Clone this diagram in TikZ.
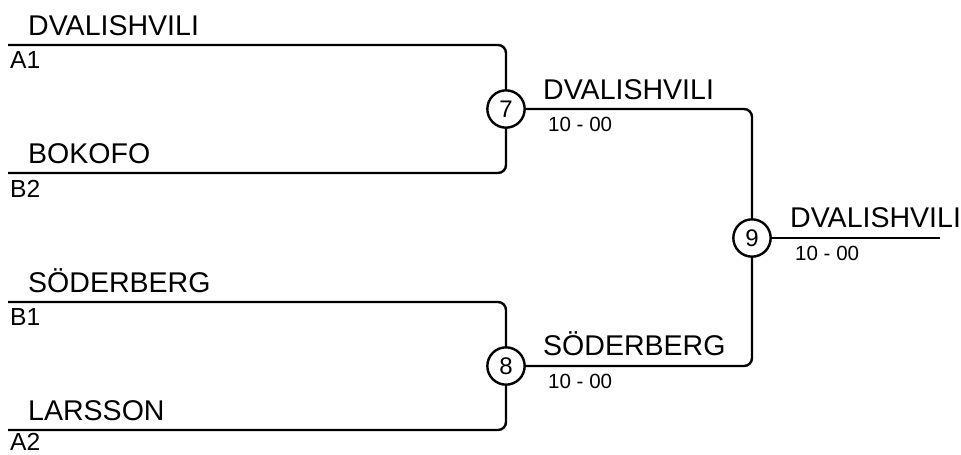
\documentclass[tikz,border=0pt]{standalone}
\usepackage{fontspec}
\setmainfont{Liberation Sans}
\usetikzlibrary{positioning}

\begin{document}
\begin{tikzpicture}[
        x=0.75pt, y=-0.75pt,
        line width=1.8pt,
        match/.style={circle, draw, fill=white, minimum size=28pt, inner sep=0pt, font=\fontsize{18}{20}\selectfont},
        fighter/.style={anchor=base west, inner sep=0pt, font=\fontsize{21.4}{24}\selectfont},
        seed/.style={anchor=base west, inner sep=0pt, font=\fontsize{18.5}{20}\selectfont},
        score/.style={anchor=base west, inner sep=0pt, font=\fontsize{15.4}{18}\selectfont},
        bracket/.style={rounded corners=6pt}
    ]
        \useasboundingbox (0,0) rectangle (961,454);

        % first round
        \coordinate (a1) at (8,45);
        \coordinate (b2) at (8,173);
        \coordinate (b1) at (8,302);
        \coordinate (a2) at (8,430);
        \node[match] (m7) at (506,109) {7};
        \node[match] (m8) at (506,366) {8};
        \node[match] (m9) at (752,238) {9};
        \coordinate (final) at (940,238);

        \draw[bracket] (a1) -| (m7);
        \draw[bracket] (b2) -| (m7);
        \draw[bracket] (b1) -| (m8);
        \draw[bracket] (a2) -| (m8);
        \draw[bracket] (m7) -| (m9);
        \draw[bracket] (m8) -| (m9);
        \draw (m9) -- (final);

        \node[fighter] (dva1) at (27,35) {DVALISHVILI};
        \node[seed] (sa1) at (9,68) {A1};
        \node[fighter] (bok) at (27,163) {BOKOFO};
        \node[seed] (sb2) at (9,197) {B2};
        \node[fighter] (sod1) at (27,292) {SÖDERBERG};
        \node[seed] (sb1) at (9,325) {B1};
        \node[fighter] (lar) at (27,420) {LARSSON};
        \node[seed] (sa2) at (9,450.5) {A2};

        % semi finals and final
        \node[fighter] (dva2) at (542,99) {DVALISHVILI};
        \node[score] (r7) at (547,131) {10 - 00};
        \node[fighter] (sod2) at (542,355) {SÖDERBERG};
        \node[score] (r8) at (547,388) {10 - 00};
        \node[fighter] (dva3) at (789,227) {DVALISHVILI};
        \node[score] (r9) at (794,260) {10 - 00};
    \end{tikzpicture}
\end{document}
